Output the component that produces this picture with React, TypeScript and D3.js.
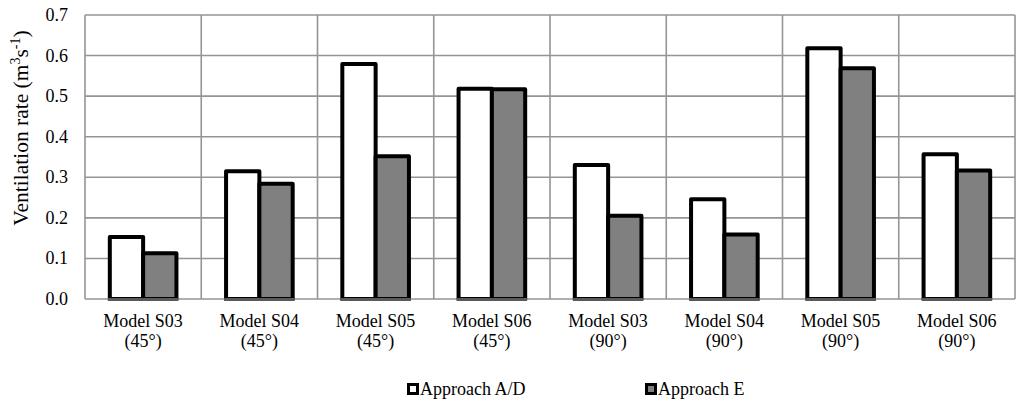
import React from "react";
import * as d3 from "d3";

const categories = [
  "Model S03|(45°)",
  "Model S04|(45°)",
  "Model S05|(45°)",
  "Model S06|(45°)",
  "Model S03|(90°)",
  "Model S04|(90°)",
  "Model S05|(90°)",
  "Model S06|(90°)",
];
const seriesNames = ["Approach A/D", "Approach E"];
const approachAD = [0.153, 0.315, 0.579, 0.518, 0.330, 0.246, 0.618, 0.357];
const approachE = [0.113, 0.284, 0.352, 0.517, 0.205, 0.159, 0.569, 0.317];
const yTicks = [0, 0.1, 0.2, 0.3, 0.4, 0.5, 0.6, 0.7];
const seriesFills = ["#ffffff", "#808080"];

const W = 1024;
const H = 407;
const left = 85;
const right = 1015;
const top = 15;
const bottom = 299;
const font = '"Liberation Serif", "Times New Roman", Tinos, "DejaVu Serif", serif';
const ts = { fontFamily: font };

export default function App() {
  const x0 = d3.scaleBand<string>().domain(categories).range([left, right]).paddingInner(0).paddingOuter(0);
  const x1 = d3.scaleBand<string>().domain(seriesNames).range([0, x0.bandwidth()]).paddingInner(0).paddingOuter(0.745);
  const y = d3.scaleLinear().domain([0, 0.7]).range([bottom, top]);
  const values = [approachAD, approachE];
  const boundaries = [...categories.map((c) => x0(c) as number), right];

  return (
    <svg width={W} height={H} style={{ position: "absolute", left: 0, top: 0, background: "#fff" }}>
      <rect x={0} y={0} width={W} height={H} fill="#fff" />
      {yTicks.map((t) => (
        <line key={"h" + t} x1={left} x2={right} y1={y(t)} y2={y(t)} stroke="#959595" strokeWidth={1.6} />
      ))}
      {boundaries.map((b, i) => (
        <line key={"v" + i} x1={b} x2={b} y1={top} y2={bottom} stroke="#959595" strokeWidth={1.6} />
      ))}
      {categories.map((c, ci) =>
        seriesNames.map((s, si) => {
          const bx = (x0(c) as number) + (x1(s) as number);
          const bw = x1.bandwidth();
          const yv = y(values[si][ci]);
          return (
            <rect key={c + s + ci} x={bx} y={yv} width={bw} height={bottom - yv} fill={seriesFills[si]} stroke="#000" strokeWidth={4} strokeLinejoin="round" />
          );
        })
      )}
      {categories.map((c, ci) => {
        const bx = (x0(c) as number) + (x1(seriesNames[0]) as number);
        const ex = (x0(c) as number) + (x1(seriesNames[1]) as number) + x1.bandwidth();
        return <line key={"base" + ci} x1={bx - 2} x2={ex + 2} y1={bottom + 0.5} y2={bottom + 0.5} stroke="#5a5a5a" strokeWidth={3} />;
      })}
      {yTicks.map((t) => (
        <text key={"yt" + t} x={68} y={y(t) + 6} textAnchor="end" fontSize={18} fill="#000" style={ts}>
          {d3.format(".1f")(t)}
        </text>
      ))}
      <text transform="translate(28,128) rotate(-90)" textAnchor="middle" fontSize={21.5} fill="#000" style={ts}>
        Ventilation rate (m
        <tspan fontSize={14} dy={-8}>3</tspan>
        <tspan dy={8}>s</tspan>
        <tspan fontSize={14} dy={-8}>-1</tspan>
        <tspan dy={8}>)</tspan>
      </text>
      {categories.map((c) => {
        const [l1, l2] = c.split("|");
        const cx = (x0(c) as number) + x0.bandwidth() / 2;
        return (
          <text key={"cl" + c} x={cx} textAnchor="middle" fontSize={18} fill="#000" style={ts}>
            <tspan x={cx} y={327}>{l1}</tspan>
            <tspan x={cx} y={347}>{l2}</tspan>
          </text>
        );
      })}
      {seriesNames.map((s, si) => {
        const lx = si === 0 ? 407 : 645;
        return (
          <g key={"lg" + s}>
            <rect x={lx} y={383} width={12} height={12} fill="#000" />
            <rect x={lx + 3} y={386} width={6} height={6} fill={seriesFills[si]} />
            <text x={lx + 13} y={395} fontSize={18} fill="#000" style={ts}>{s}</text>
          </g>
        );
      })}
    </svg>
  );
}
